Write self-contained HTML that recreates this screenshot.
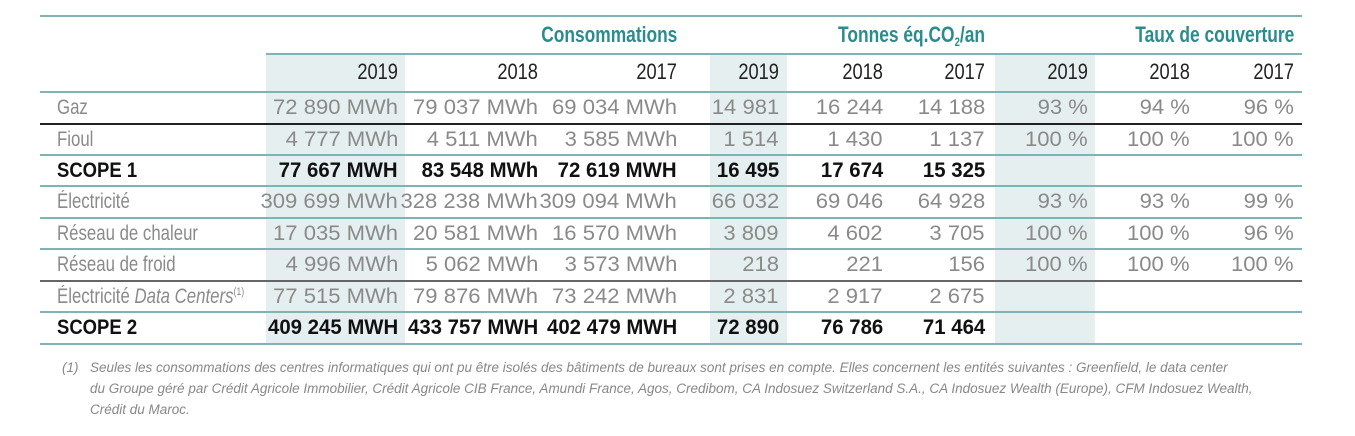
<!DOCTYPE html>
<html><head><meta charset="utf-8"><style>
body{margin:0;width:1355px;height:436px;background:#fff;position:relative;overflow:hidden;font-family:"Liberation Sans",sans-serif;}
.sh{position:absolute;top:53px;height:290px;background:#e5eff0;}
.ln{position:absolute;height:1.5px;background:#7fb3b5;}
.t{position:absolute;font-size:21px;line-height:31px;white-space:nowrap;color:#8a8a8a;}
.r{text-align:right;transform-origin:right center;}
.l{transform-origin:left center;transform:scaleX(0.8);}
.b{font-weight:bold;color:#111;}
.h{font-weight:bold;color:#2a8c8c;font-size:22px;transform:scaleX(0.79);}
.y{color:#222;font-size:22px;}
.fn{position:absolute;font-size:13.5px;font-style:italic;color:#888;line-height:21px;white-space:nowrap;}
</style></head><body>
<div class="sh" style="left:266px;width:139px"></div>
<div class="sh" style="left:710px;width:77px"></div>
<div class="sh" style="left:995px;width:100px"></div>
<div class="ln" style="top:15px;left:40px;width:1262px"></div>
<div class="ln" style="top:53px;left:266px;width:1036px"></div>
<div class="ln" style="top:91px;left:40px;width:1262px"></div>
<div class="ln" style="top:123px;left:40px;width:1262px;background:#222"></div>
<div class="ln" style="top:154px;left:40px;width:1262px"></div>
<div class="ln" style="top:185px;left:40px;width:1262px"></div>
<div class="ln" style="top:217px;left:40px;width:1262px"></div>
<div class="ln" style="top:248px;left:40px;width:1262px"></div>
<div class="ln" style="top:280px;left:40px;width:1262px;background:#666"></div>
<div class="ln" style="top:311px;left:40px;width:1262px"></div>
<div class="ln" style="top:343px;left:40px;width:1262px"></div>

<div class="t h r" style="right:678px;top:19px">Consommations</div>
<div class="t h r" style="right:370px;top:19px">Tonnes éq.CO<sub style="font-size:12px;vertical-align:-4px;line-height:0">2</sub>/an</div>
<div class="t h r" style="right:61px;top:19px">Taux de couverture</div>

<div id="rows"></div>
<script>
var rights=[398,538,677,779,883,985,1088,1190,1294];
var rows=[
["",["2019","2018","2017","2019","2018","2017","2019","2018","2017"],"y",56],
["Gaz",["72 890 MWh","79 037 MWh","69 034 MWh","14 981","16 244","14 188","93 %","94 %","96 %"],"",92],
["Fioul",["4 777 MWh","4 511 MWh","3 585 MWh","1 514","1 430","1 137","100 %","100 %","100 %"],"",124],
["SCOPE 1",["77 667 MWH","83 548 MWh","72 619 MWH","16 495","17 674","15 325","","",""],"b",155],
["Électricité",["309 699 MWh","328 238 MWh","309 094 MWh","66 032","69 046","64 928","93 %","93 %","99 %"],"",186],
["Réseau de chaleur",["17 035 MWh","20 581 MWh","16 570 MWh","3 809","4 602","3 705","100 %","100 %","96 %"],"",218],
["Réseau de froid",["4 996 MWh","5 062 MWh","3 573 MWh","218","221","156","100 %","100 %","100 %"],"",249],
["Électricité <i>Data Centers</i><span style='font-size:11px;position:relative;top:-8px'>(1)</span>",["77 515 MWh","79 876 MWh","73 242 MWh","2 831","2 917","2 675","","",""],"",281],
["SCOPE 2",["409 245 MWH","433 757 MWH","402 479 MWH","72 890","76 786","71 464","","",""],"b",312]];
var h="";
rows.forEach(function(r){
 var ls=r[2]=="b"?"transform:scaleX(0.88)":"";
 h+='<div class="t l '+r[2]+'" style="left:57px;top:'+r[3]+'px;'+ls+'">'+r[0]+'</div>';
 var ds=r[2]=="y"?"transform:scaleX(0.83)":(r[2]=="b"?"transform:scaleX(0.97)":"transform:scaleX(1.05)");
 r[1].forEach(function(v,i){h+='<div class="t r '+r[2]+'" style="right:'+(1355-rights[i])+'px;top:'+r[3]+'px;'+ds+'">'+v+'</div>';});
});
document.getElementById('rows').innerHTML=h;
</script>
<div class="fn" style="left:62px;top:357px">(1)</div>
<div class="fn" style="left:90px;top:357px">Seules les consommations des centres informatiques qui ont pu être isolés des bâtiments de bureaux sont prises en compte. Elles concernent les entités suivantes : Greenfield, le data center<br>du Groupe géré par Crédit Agricole Immobilier, Crédit Agricole CIB France, Amundi France, Agos, Credibom, CA Indosuez Switzerland S.A., CA Indosuez Wealth (Europe), CFM Indosuez Wealth,<br>Crédit du Maroc.</div>
</body></html>
